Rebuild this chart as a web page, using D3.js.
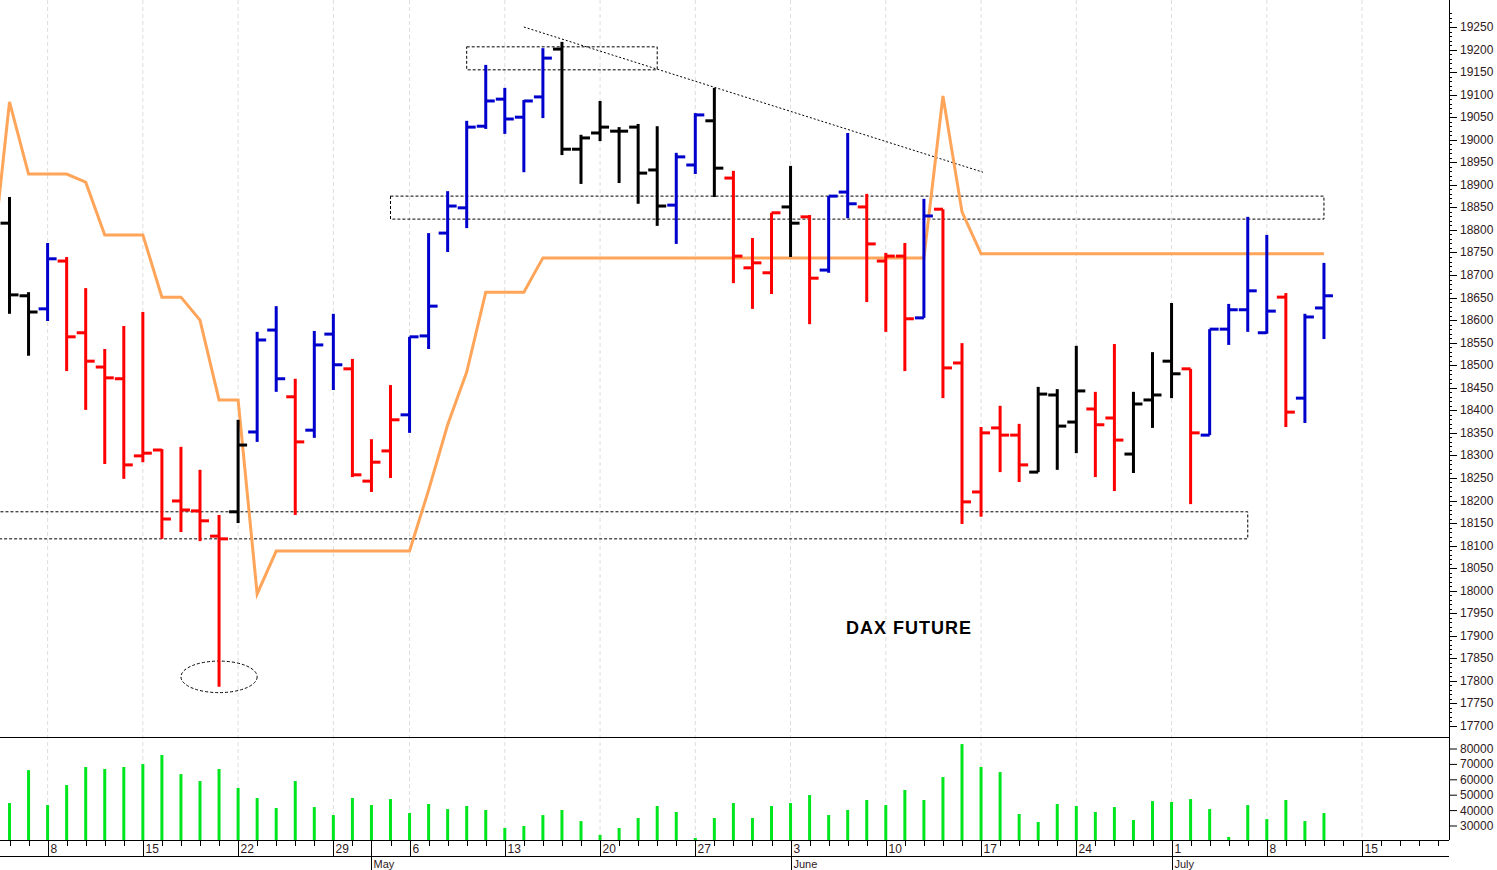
<!DOCTYPE html>
<html><head><meta charset="utf-8">
<script src="https://cdn.jsdelivr.net/npm/d3@7/dist/d3.min.js"></script>
<style>body{margin:0;background:#fff}svg{display:block}</style>
</head><body><svg id="c" width="1497" height="870"></svg>
<script>
const opens  =[18815,18654,18625,18731,18572,18496,18470,18299,18312,18199,18177,18121,18175,18352,18578,18430,18356,18569,18492,18243,18310,18390,18565,18793,18849,19030,19090,19050,19095,19201,18979,19015,19019,19028,18933,18855,18944,19042,18915,18716,18705,18851,18829,18711,18884,18851,18731,18742,18605,18846,18505,18219,18361,18345,18263,18434,18374,18403,18383,18303,18423,18509,18492,18345,18580,18623,18572,18651,18427,18627];
const highs  =[18873,18662,18771,18740,18671,18536,18587,18618,18314,18319,18268,18168,18379,18574,18631,18470,18576,18614,18514,18336,18456,18563,18793,18886,19042,19166,19115,19088,19203,19217,19011,19086,19028,19035,19030,18971,19059,19115,18931,18782,18838,18942,18833,18875,19015,18880,18749,18771,18869,18846,18549,18363,18410,18370,18452,18447,18543,18441,18547,18441,18529,18638,18492,18580,18636,18829,18789,18660,18614,18727];
const lows   =[18614,18521,18598,18487,18401,18281,18248,18285,18115,18130,18110,17787,18150,18330,18441,18168,18339,18445,18252,18219,18250,18350,18536,18751,18804,19024,19013,18928,19048,18966,18902,18997,18904,18858,18809,18769,18924,18873,18682,18625,18658,18740,18591,18705,18826,18640,18574,18487,18605,18427,18148,18164,18263,18241,18263,18268,18305,18252,18221,18261,18361,18427,18192,18345,18545,18574,18570,18363,18372,18558];
const closes =[18656,18618,18736,18563,18509,18472,18279,18305,18159,18179,18155,18115,18323,18556,18470,18330,18545,18501,18257,18285,18379,18563,18631,18853,19028,19086,19046,19086,19181,18979,19004,19028,19019,18926,18853,18962,19055,18937,18742,18727,18838,18815,18693,18875,18858,18769,18742,18603,18831,18494,18197,18350,18345,18279,18436,18365,18443,18368,18334,18414,18434,18481,18350,18580,18623,18665,18620,18396,18607,18654];
const signals="kkbrrrrrrrrrkbbrbbrrrbbbbbbbbkkkkkkbbkrrrkrbbrrrbrrrrrkkkrrkkkrbbbbrbb".split("");
const volumes=[44900,66300,43600,56600,68300,67000,68300,70200,76100,63700,59200,67000,54700,48200,41700,59200,42300,37100,48200,43600,47500,38400,44300,41000,43000,40400,28700,30000,37100,40400,33200,24200,28700,35200,43000,39100,22200,35200,44900,35200,43000,44900,50100,37100,40400,46900,43600,53400,46900,61800,83200,68300,65000,37800,32600,44300,43000,39100,42300,33900,46200,45600,47500,41000,22900,43600,34500,46900,33200,38400];
const bandLine=[18693,19084,18924,18924,18924,18906,18789,18789,18789,18651,18651,18600,18423,18423,17993,18088,18088,18088,18088,18088,18088,18088,18088,18223,18368,18485,18662,18662,18662,18738,18738,18738,18738,18738,18738,18738,18738,18738,18738,18738,18738,18738,18738,18738,18738,18738,18738,18738,18738,18738,19097,18840,18747,18747,18747,18747,18747,18747,18747,18747,18747,18747,18747,18747,18747,18747,18747,18747,18747,18747,18747];
const mondayIdx=[2,7,12,17,21,26,31,36,41,46,51,56,61,66,71];
const mondayLabels=["8","15","22","29","6","13","20","27","3","10","17","24","1","8","15"];
const monthIdx=[19,41,61];
const monthLabels=["May","June","July"];
const priceTicks=d3.range(17700,19251,50);
const volTicks=[30000,40000,50000,60000,70000,80000];
const zones=[{i0:24,i1:34,p0:19206,p1:19155},{i0:20,i1:69,p0:18875,p1:18824},{i0:-1,i1:65,p0:18175,p1:18115}];
const trend={i0:27,p0:19250,i1:51.1,p1:18928};
const ellipse={i:11,p:17809,di:2,dp:35};

const svg=d3.select("#c");
const x=d3.scaleLinear().domain([0,1]).range([9.5,28.55]);
const y=d3.scaleLinear().domain([17700,19250]).range([726,27]);
const yv=d3.scaleLinear().domain([30000,80000]).range([826,749]);
const col={k:"#000",r:"#ff0000",b:"#0000cc"};
const AX=1449;
svg.append("clipPath").attr("id","cp").append("rect").attr("x",0).attr("y",0).attr("width",AX).attr("height",840);
const g=svg.append("g").attr("clip-path","url(#cp)");
mondayIdx.forEach(i=>g.append("line").attr("x1",x(i)).attr("x2",x(i)).attr("y1",0).attr("y2",840).attr("stroke","#ddd").attr("stroke-dasharray","4,3"));
zones.forEach(z=>g.append("rect").attr("x",x(z.i0)).attr("width",x(z.i1)-x(z.i0)).attr("y",y(z.p0)).attr("height",y(z.p1)-y(z.p0)).attr("fill","none").attr("stroke","#000").attr("stroke-dasharray","3,2"));
g.append("line").attr("x1",x(trend.i0)).attr("y1",y(trend.p0)).attr("x2",x(trend.i1)).attr("y2",y(trend.p1)).attr("stroke","#000").attr("stroke-dasharray","2,2");
g.append("ellipse").attr("cx",x(ellipse.i)).attr("cy",y(ellipse.p)).attr("rx",x(ellipse.di)-x(0)).attr("ry",y(ellipse.p-ellipse.dp)-y(ellipse.p)).attr("fill","none").attr("stroke","#000").attr("stroke-dasharray","3,2");
g.append("path").datum(bandLine).attr("d",d3.line().x((d,k)=>x(k-1)).y(d=>y(d))).attr("fill","none").attr("stroke","#ffa55a").attr("stroke-width",3);
opens.forEach((o,i)=>{
  const c=col[signals[i]],xx=x(i);
  g.append("line").attr("x1",xx).attr("x2",xx).attr("y1",y(highs[i])).attr("y2",y(lows[i])).attr("stroke",c).attr("stroke-width",3);
  g.append("line").attr("x1",xx-9).attr("x2",xx).attr("y1",y(o)).attr("y2",y(o)).attr("stroke",c).attr("stroke-width",3);
  g.append("line").attr("x1",xx).attr("x2",xx+9).attr("y1",y(closes[i])).attr("y2",y(closes[i])).attr("stroke",c).attr("stroke-width",3);
  g.append("line").attr("x1",xx).attr("x2",xx).attr("y1",yv(volumes[i])).attr("y2",840).attr("stroke","#00e61e").attr("stroke-width",3);
});
g.append("text").attr("x",909).attr("y",634).attr("text-anchor","middle").attr("font-family","Liberation Sans, Arial").attr("font-weight","bold").attr("font-size",18).attr("letter-spacing",1).text("DAX FUTURE");
svg.append("line").attr("x1",0).attr("x2",AX).attr("y1",737.5).attr("y2",737.5).attr("stroke","#000");
svg.append("line").attr("x1",AX+.5).attr("x2",AX+.5).attr("y1",0).attr("y2",840).attr("stroke","#000");
svg.append("line").attr("x1",0).attr("x2",AX).attr("y1",840.5).attr("y2",840.5).attr("stroke","#000");
svg.append("line").attr("x1",0).attr("x2",AX).attr("y1",856.5).attr("y2",856.5).attr("stroke","#000");
const tc="#301820",font="Liberation Sans, Arial";
d3.range(17700,19290,10).forEach(p=>{const yy=Math.round(y(p))+.5;const major=p%50===0;
  svg.append("line").attr("x1",AX).attr("x2",AX+(major?8:3)).attr("y1",yy).attr("y2",yy).attr("stroke","#000");});
priceTicks.forEach(p=>svg.append("text").attr("x",AX+11).attr("y",y(p)+4).attr("font-family",font).attr("font-size",12).attr("fill",tc).text(p));
volTicks.forEach(v=>{svg.append("line").attr("x1",AX).attr("x2",AX+8).attr("y1",yv(v)).attr("y2",yv(v)).attr("stroke","#000");
  svg.append("text").attr("x",AX+11).attr("y",yv(v)+4).attr("font-family",font).attr("font-size",12).attr("fill",tc).text(v);});
d3.range(0,76).forEach(i=>svg.append("line").attr("x1",Math.round(x(i))+.5).attr("x2",Math.round(x(i))+.5).attr("y1",840).attr("y2",846).attr("stroke","#000"));
mondayIdx.forEach((i,k)=>{const xx=Math.round(x(i))+.5;
  svg.append("line").attr("x1",xx).attr("x2",xx).attr("y1",840).attr("y2",856).attr("stroke","#000");
  svg.append("text").attr("x",xx+2).attr("y",853).attr("font-family",font).attr("font-size",12).attr("fill",tc).text(mondayLabels[k]);});
monthIdx.forEach((i,k)=>{const xx=Math.round(x(i))+.5;
  svg.append("line").attr("x1",xx).attr("x2",xx).attr("y1",840).attr("y2",870).attr("stroke","#000");
  svg.append("text").attr("x",xx+2).attr("y",868).attr("font-family",font).attr("font-size",11).attr("fill",tc).text(monthLabels[k]);});
</script></body></html>
